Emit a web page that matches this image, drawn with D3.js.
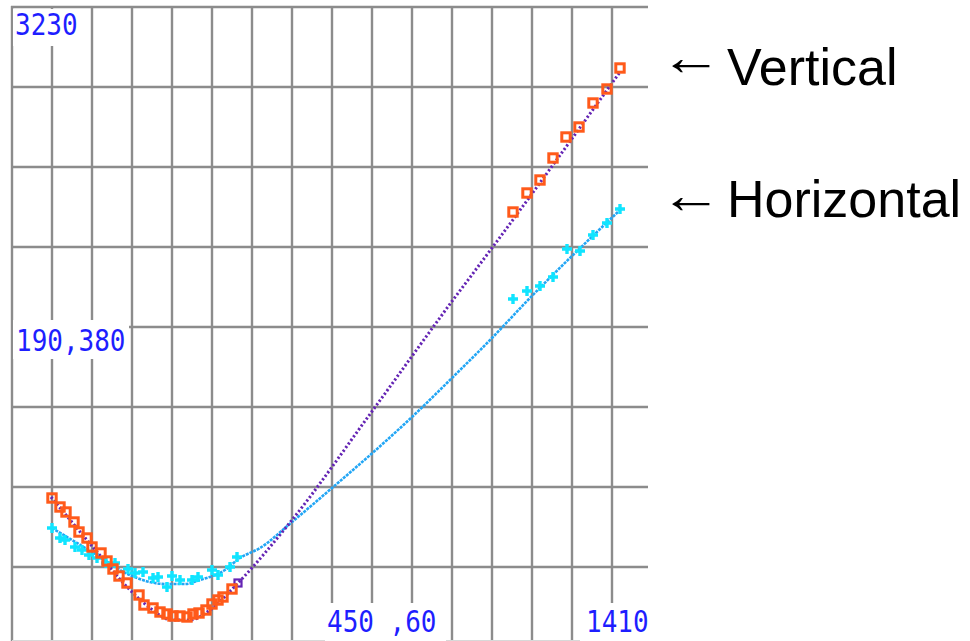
<!DOCTYPE html>
<html>
<head>
<meta charset="utf-8">
<script src="https://cdn.jsdelivr.net/npm/d3@7"></script>
<style>
  html, body { margin: 0; padding: 0; background: #fff; }
  svg { display: block; }
</style>
</head>
<body>
<svg id="chart" width="970" height="641"></svg>
<script>
// ---- data (grid units) ----
const vertX = [1.0,1.2,1.35,1.55,1.675,1.875,2.0,2.225,2.375,2.525,2.675,2.875,3.175,3.3,3.525,3.7,3.875,4.025,4.2,4.375,4.525,4.675,4.85,5.0,5.15,5.275,5.5,
               12.525,12.875,13.2,13.525,13.85,14.175,14.525,14.875,15.2];
const vertY = [0.8625,0.75,0.6875,0.5625,0.4375,0.3625,0.25,0.175,0.075,-0.025,-0.1125,-0.2,-0.35,-0.475,-0.5125,-0.5625,-0.5875,-0.6125,-0.6125,-0.625,-0.5875,-0.575,-0.5375,-0.4625,-0.4125,-0.375,-0.275,
               4.4375,4.675,4.8375,5.1125,5.375,5.5,5.8,5.975,6.2375];
const horzX = [1.0,1.2,1.325,1.575,1.75,1.925,2.125,2.35,2.575,2.9,3.075,3.275,3.525,3.65,3.875,4.0,4.2,4.5,4.65,5.0,5.15,5.45,5.625,
               12.525,12.875,13.2,13.525,13.875,14.2,14.525,14.875,15.2];
const horzY = [0.4875,0.3625,0.3375,0.25,0.2125,0.15,0.1125,0.05,0.05,-0.025,-0.075,-0.0625,-0.1375,-0.125,-0.25,-0.1125,-0.1625,-0.1625,-0.125,-0.0375,-0.1,0,0.125,
               3.35,3.45,3.5125,3.625,3.975,3.95,4.15,4.3,4.475];
const vertFitX = [0.975,2.0,2.95,3.45,4.0,4.45,4.95,5.65,7.0,9.025,11.025,12.0,15.2];
const vertFitY = [0.875,0.2625,-0.2875,-0.5125,-0.6625,-0.6625,-0.5375,-0.2,0.5875,1.9625,3.3375,3.9875,6.1875];
const horzFitX = [1.0,2.0,3.0,3.825,4.325,4.7,5.325,5.7,6.2,7.0,8.0,9.375,10.0,11.025,12.0,12.9,15.2];
const horzFitY = [0.4875,0.1875,-0.1125,-0.2125,-0.2125,-0.1625,-0.0375,0.1125,0.2375,0.5625,0.9875,1.5875,1.875,2.375,2.8625,3.3375,4.4625];
const vertEnd = [5.65, -0.2];
const xTicks = d3.range(0, 16);
const yTicks = d3.range(0, 8);
const axisLabels = ["3230", "190,380", "450 ,60", "1410"];
const seriesNames = ["Vertical", "Horizontal"];

// ---- scales ----
const x = d3.scaleLinear().domain([0, 15.9]).range([12, 648]);
const y = d3.scaleLinear().domain([-0.925, 7]).range([641, 7]);

const svg = d3.select("#chart");
const gridColor = "#8c8c8c";

// grid
const grid = svg.append("g");
grid.selectAll("line.v").data(xTicks).enter().append("line")
  .attr("x1", d => x(d)).attr("x2", d => x(d))
  .attr("y1", y(7) - 1).attr("y2", 641)
  .attr("stroke", gridColor).attr("stroke-width", 2.4);
grid.selectAll("line.h").data(yTicks).enter().append("line")
  .attr("x1", x(0) - 1).attr("x2", 648)
  .attr("y1", d => y(d)).attr("y2", d => y(d))
  .attr("stroke", gridColor).attr("stroke-width", 2.4);
grid.append("line").attr("x1", x(0)).attr("x2", 648).attr("y1", 640.5).attr("y2", 640.5)
  .attr("stroke", "#d8d8d8").attr("stroke-width", 1);

// label backgrounds + labels
const labelFont = "'DejaVu Sans Mono', 'Liberation Mono', monospace";
const labelSpecs = [
  {t: axisLabels[0], bx: 13, by: 9,   bw: 75,  bh: 37, tx: 15,  ty: 35},
  {t: axisLabels[1], bx: 13, by: 320, bw: 116, bh: 39, tx: 16,  ty: 351},
  {t: axisLabels[2], bx: 325, by: 603, bw: 121, bh: 38, tx: 327, ty: 632},
  {t: axisLabels[3], bx: 580, by: 603, bw: 68,  bh: 38, tx: 586, ty: 632}
];
const lab = svg.append("g");
lab.selectAll("rect").data(labelSpecs).enter().append("rect")
  .attr("x", d => d.bx).attr("y", d => d.by).attr("width", d => d.bw).attr("height", d => d.bh)
  .attr("fill", "#fff");
lab.selectAll("text").data(labelSpecs).enter().append("text")
  .attr("transform", d => `translate(${d.tx},${d.ty}) scale(1,1.15)`)
  .attr("font-family", labelFont).attr("font-size", 26)
  .attr("fill", "#1e1eff")
  .text(d => d.t);

// fit lines
const line = d3.line().x(d => x(d[0])).y(d => y(d[1])).curve(d3.curveMonotoneX);
svg.append("path")
  .datum(horzFitX.map((v, i) => [v, horzFitY[i]]))
  .attr("d", line).attr("fill", "none")
  .attr("stroke", "#22a6f5").attr("stroke-width", 2.6).attr("stroke-dasharray", "3,1");
svg.append("path")
  .datum(vertFitX.map((v, i) => [v, vertFitY[i]]))
  .attr("d", line).attr("fill", "none")
  .attr("stroke", "#6424b4").attr("stroke-width", 3).attr("stroke-dasharray", "2.2,2.2");

// vertical fit end marker
svg.append("rect")
  .attr("x", x(vertEnd[0]) - 3.5).attr("y", y(vertEnd[1]) - 3.5)
  .attr("width", 7).attr("height", 7)
  .attr("fill", "none").attr("stroke", "#6424b4").attr("stroke-width", 2.2);

// horizontal points (plus)
const hp = svg.append("g");
hp.selectAll("path").data(horzX.map((v, i) => [v, horzY[i]])).enter().append("path")
  .attr("d", d => {
    const cx = x(d[0]), cy = y(d[1]), s = 5;
    return `M${cx - s},${cy}H${cx + s}M${cx},${cy - s}V${cy + s}`;
  })
  .attr("stroke", "#10e4ff").attr("stroke-width", 3.4).attr("fill", "none");

// vertical points (squares)
const vp = svg.append("g");
vp.selectAll("rect").data(vertX.map((v, i) => [v, vertY[i]])).enter().append("rect")
  .attr("x", d => x(d[0]) - 4.2).attr("y", d => y(d[1]) - 4.2)
  .attr("width", 8.4).attr("height", 8.4)
  .attr("fill", "none").attr("stroke", "#ff5a1a").attr("stroke-width", 3);

// legend
const legFont = "'Liberation Sans', Arial, sans-serif";
const legend = [
  {name: seriesNames[0], yv: 85, ay: 75},
  {name: seriesNames[1], yv: 217, ay: 213}
];
const lg = svg.append("g");
lg.selectAll("text.arrow").data(legend).enter().append("text")
  .attr("transform", d => `translate(660,${d.ay}) scale(1.2,1)`)
  .attr("font-family", legFont).attr("font-size", 52).attr("fill", "#000")
  .text("←");
lg.selectAll("text.name").data(legend).enter().append("text")
  .attr("x", 727).attr("y", d => d.yv)
  .attr("font-family", legFont).attr("font-size", 52).attr("fill", "#000")
  .text(d => d.name);
</script>
</body>
</html>
